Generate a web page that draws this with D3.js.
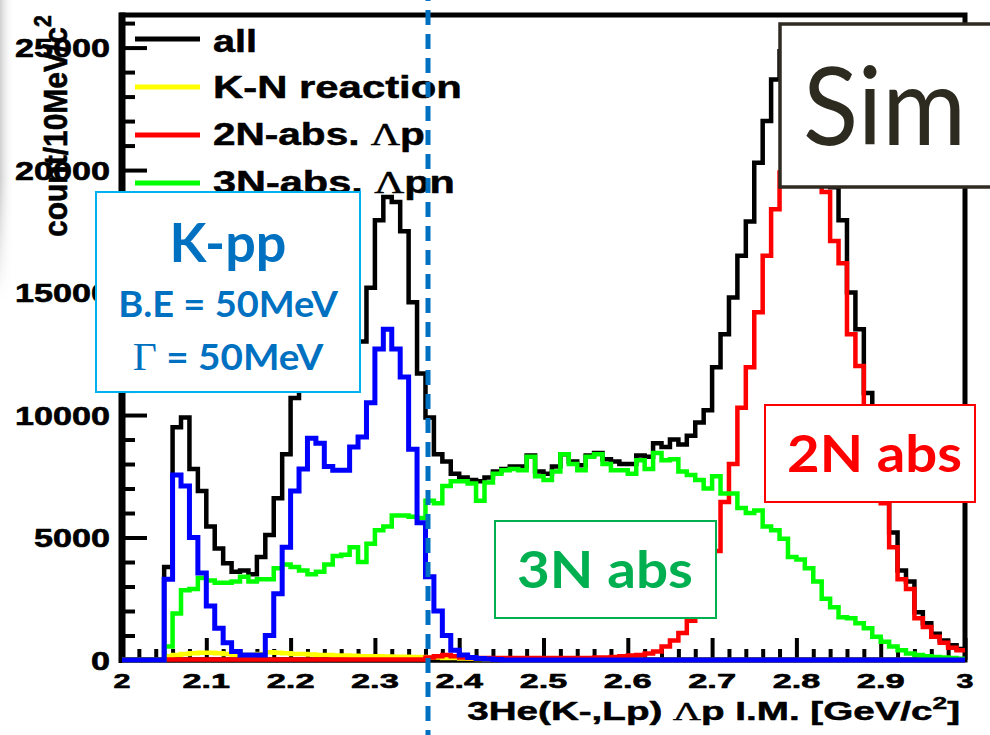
<!DOCTYPE html>
<html>
<head>
<meta charset="utf-8">
<script src="https://cdn.jsdelivr.net/npm/d3@7"></script>
<style>
  html, body { margin: 0; padding: 0; background: #fff; }
  svg { display: block; }
</style>
</head>
<body>
<svg id="chart" width="990" height="735"></svg>
<script>
// ---- Data: 3He(K-,Lp) Λp invariant mass, 10 MeV/c^2 bins from 2.00 to 3.00 GeV/c^2 ----
const binLowEdges = d3.range(100).map(i => +(2 + i * 0.01).toFixed(2));

const allCounts = [
  0, 0, 0, 0, 0, 3800, 9500, 9900, 7800, 6900,
  5450, 4550, 3950, 3600, 3650, 3500, 4200, 5100, 6600, 8400,
  10700, 11500, 12550, 12450, 11800, 12000, 12050, 13300, 13000, 15200,
  17950, 18900, 18700, 17500, 14600, 11700, 9900, 8400, 8100, 7600,
  7450, 7350, 7300, 7450, 7700, 7800, 7900, 7900, 8350, 7700,
  7600, 7900, 8400, 8100, 7950, 8350, 8450, 8200, 8100, 8000,
  8000, 8350, 8300, 8850, 8700, 9000, 8800, 9150, 9700, 10200,
  11950, 13300, 14800, 16500, 17900, 20300, 22000, 23700, 24850, 25100,
  25700, 25150, 23700, 21600, 19300, 17950, 15000, 13500, 10900, 9000,
  7150, 5200, 3650, 3200, 1950, 1500, 1070, 800, 600, 450
];

const knReactionCounts = [
  0, 0, 0, 0, 0, 150, 200, 250, 280, 300,
  300, 280, 250, 200, 200, 200, 250, 320, 300, 280,
  250, 250, 220, 200, 200, 180, 180, 170, 150, 150,
  150, 140, 130, 130, 120, 120, 100, 100, 80, 80,
  60, 50, 40, 30, 20, 0, 0, 0, 0, 0,
  0, 0, 0, 0, 0, 0, 0, 0, 0, 0,
  0, 0, 0, 0, 0, 0, 0, 0, 0, 0,
  0, 0, 0, 0, 0, 0, 0, 0, 0, 0,
  0, 0, 0, 0, 0, 0, 0, 0, 0, 0,
  0, 0, 0, 0, 0, 0, 0, 0, 0, 0
];

const abs2NCounts = [
  0, 0, 0, 0, 0, 20, 20, 20, 20, 20,
  20, 20, 20, 20, 20, 20, 20, 20, 20, 20,
  20, 20, 20, 20, 20, 20, 20, 20, 20, 20,
  20, 20, 20, 20, 20, 20, 100, 150, 200, 150,
  100, 80, 80, 80, 80, 80, 80, 80, 80, 80,
  80, 80, 80, 80, 80, 80, 100, 100, 120, 150,
  180, 200, 270, 350, 550, 800, 1100, 1600, 2300, 3200,
  4450, 6450, 8000, 10300, 11950, 14200, 16500, 18400, 19900, 20900,
  21600, 21400, 20500, 19100, 17100, 16200, 13300, 12000, 9600, 8000,
  6400, 4600, 3300, 2900, 1700, 1350, 950, 700, 500, 400
];

const abs3NCounts = [
  0, 0, 0, 0, 0, 550, 1900, 2850, 2900, 3350,
  3250, 3150, 3150, 3200, 3400, 3200, 3300, 3300, 3750, 3900,
  3800, 3650, 3500, 3600, 3900, 4250, 4300, 4600, 4000, 4750,
  5300, 5450, 5900, 5900, 5850, 5800, 6500, 6400, 7100, 7300,
  7300, 7200, 6500, 7250, 7600, 7750, 7800, 7750, 8300, 7500,
  7350, 7700, 8400, 8000, 7750, 8300, 8400, 8000, 7750, 7750,
  7600, 8150, 7800, 8450, 8150, 8200, 7700, 7550, 7350, 7000,
  7500, 6800, 6800, 6200, 6000, 6100, 5450, 5300, 4950, 4200,
  4100, 3750, 3200, 2500, 2150, 1750, 1700, 1500, 1300, 950,
  750, 550, 400, 270, 200, 150, 120, 100, 80, 50
];

const kppCounts = [
  0, 0, 0, 0, 0, 3300, 7550, 7100, 5000, 3550,
  2200, 1300, 700, 350, 200, 200, 200, 1000, 2700, 4600,
  6900, 7800, 9050, 8850, 7900, 7750, 7750, 8700, 9100, 10500,
  12700, 13500, 12700, 11550, 8600, 5600, 3400, 2000, 1000, 400,
  200, 100, 60, 40, 20, 0, 0, 0, 0, 0,
  0, 0, 0, 0, 0, 0, 0, 0, 0, 0,
  0, 0, 0, 0, 0, 0, 0, 0, 0, 0,
  0, 0, 0, 0, 0, 0, 0, 0, 0, 0,
  0, 0, 0, 0, 0, 0, 0, 0, 0, 0,
  0, 0, 0, 0, 0, 0, 0, 0, 0, 0
];

const xMajorTicks = [2, 2.1, 2.2, 2.3, 2.4, 2.5, 2.6, 2.7, 2.8, 2.9, 3];
const xTickLabels = ["2", "2.1", "2.2", "2.3", "2.4", "2.5", "2.6", "2.7", "2.8", "2.9", "3"];
const yMajorTicks = [0, 5000, 10000, 15000, 20000, 25000];
const yTickLabels = ["0", "5000", "10000", "15000", "20000", "25000"];
const xMinorTicks = d3.range(1, 50).filter(i => i % 5 !== 0).map(i => 2 + i * 0.02);
const yMinorTicks = d3.range(1, 27).filter(i => i % 5 !== 0).map(i => i * 1000);

const legendNames = ["all", "K-N reaction", "2N-abs. ", "3N-abs. "];

// ---- Layout ----
const svg = d3.select("#chart");
const frame = { left: 122, right: 965, top: 15, bottom: 660 };
const x = d3.scaleLinear().domain([2, 3]).range([frame.left, frame.right]);
const y = d3.scaleLinear().domain([0, 26330]).range([frame.bottom, frame.top]);

const ROOT_FONT = "'Liberation Sans', Arial, Helvetica, sans-serif";
const GREEK_FONT = "'Liberation Serif', 'Times New Roman', serif";
const SLIDE_FONT = "Lato, 'Open Sans', 'Noto Sans', sans-serif";

// Text whose rendered width is set explicitly (horizontal scale around its anchor).
function fittedText(parent, o) {
  const g = parent.append("g");
  const t = g.append("text")
    .attr("text-anchor", o.anchor || "start")
    .attr("font-family", o.family || ROOT_FONT)
    .attr("font-weight", o.weight || "bold")
    .attr("font-size", o.size)
    .attr("fill", o.fill || "#000");
  if (o.heavy) {
    t.attr("stroke", o.fill || "#000").attr("stroke-width", o.heavy).attr("stroke-linejoin", "round");
  }
  o.parts.forEach(p => {
    const s = t.append("tspan").text(p.text);
    if (p.family) s.attr("font-family", p.family);
    if (p.weight) s.attr("font-weight", p.weight);
    if (p.size) s.attr("font-size", p.size);
    if (p.dy) s.attr("dy", p.dy);
  });
  const w = t.node().getBBox().width;
  const sx = o.width / w;
  const sy = o.sy || 1;
  g.attr("transform", `translate(${o.x},${o.y})${o.rotate ? ` rotate(${o.rotate})` : ""} scale(${sx},${sy})`);
  return g;
}

// ---- Slide edge shading ----
const defs = svg.append("defs");
const edgeGrad = defs.append("linearGradient").attr("id", "edgeGrad").attr("x1", 0).attr("x2", 1).attr("y1", 0).attr("y2", 0);
edgeGrad.append("stop").attr("offset", 0).attr("stop-color", "#cfcfcf");
edgeGrad.append("stop").attr("offset", 1).attr("stop-color", "#ffffff").attr("stop-opacity", 0);
const fadeGrad = defs.append("linearGradient").attr("id", "fadeGrad").attr("x1", 0).attr("x2", 0).attr("y1", 0).attr("y2", 1);
fadeGrad.append("stop").attr("offset", 0.6).attr("stop-color", "#fff");
fadeGrad.append("stop").attr("offset", 1).attr("stop-color", "#000");
defs.append("mask").attr("id", "fadeMask").append("rect")
  .attr("x", 0).attr("y", 0).attr("width", 16).attr("height", 300).attr("fill", "url(#fadeGrad)");
svg.append("rect").attr("x", 0).attr("y", 0).attr("width", 14).attr("height", 300)
  .attr("fill", "url(#edgeGrad)").attr("mask", "url(#fadeMask)");

// ---- Frame and axes ----
svg.append("rect")
  .attr("x", frame.left).attr("y", frame.top)
  .attr("width", frame.right - frame.left).attr("height", frame.bottom - frame.top)
  .attr("fill", "none").attr("stroke", "#000").attr("stroke-width", 5);
svg.append("line")
  .attr("x1", frame.left).attr("x2", frame.left)
  .attr("y1", frame.top - 2.5).attr("y2", frame.bottom + 3)
  .attr("stroke", "#000").attr("stroke-width", 7);
svg.append("line")
  .attr("x1", frame.left).attr("x2", frame.right)
  .attr("y1", frame.bottom).attr("y2", frame.bottom)
  .attr("stroke", "#000").attr("stroke-width", 5);

function tickAxis(axis, transform, values, size) {
  const g = svg.append("g").attr("transform", transform)
    .call(axis.tickValues(values).tickSize(size).tickFormat(""));
  g.select(".domain").remove();
  g.selectAll(".tick line").attr("stroke", "#000").attr("stroke-width", 4);
}
tickAxis(d3.axisLeft(y), `translate(${frame.left},0)`, yMinorTicks, -13);
tickAxis(d3.axisLeft(y), `translate(${frame.left},0)`, yMajorTicks, -25);
tickAxis(d3.axisBottom(x), `translate(0,${frame.bottom})`, xMinorTicks, -11);
tickAxis(d3.axisBottom(x), `translate(0,${frame.bottom})`, xMajorTicks, -22);

// Tick labels
yMajorTicks.forEach((v, i) => {
  fittedText(svg, {
    x: 110, y: y(v) + 9.5, anchor: "end", size: 26, heavy: 0.6,
    width: 19 * yTickLabels[i].length, parts: [{ text: yTickLabels[i] }]
  });
});
xMajorTicks.forEach((v, i) => {
  const lab = xTickLabels[i];
  fittedText(svg, {
    x: x(v), y: 688, anchor: "middle", size: 21, heavy: 0.6,
    width: lab.length === 1 ? 17 : 48, parts: [{ text: lab }]
  });
});

// Axis titles
fittedText(svg, {
  x: 960, y: 720, anchor: "end", size: 25, width: 493, heavy: 0.5,
  parts: [
    { text: "3He(K-,Lp) " },
    { text: "Λ", family: GREEK_FONT, weight: "normal" },
    { text: "p I.M. [GeV/c" },
    { text: "2", size: 17, dy: -11 },
    { text: "]", dy: 11 }
  ]
});
fittedText(svg, {
  x: 67, y: 237, rotate: -90, anchor: "start", size: 28, width: 222, sy: 1.2, heavy: 0.5,
  parts: [
    { text: "count/10MeV/c" },
    { text: "2", size: 20, dy: -13 }
  ]
});

// ---- Histograms ----
const histLine = d3.line()
  .x(d => x(d[0]))
  .y(d => y(d[1]))
  .curve(d3.curveStepAfter);

function drawHist(counts, color, width) {
  const pts = binLowEdges.map((e, i) => [e, counts[i]]);
  pts.push([3, counts[counts.length - 1]]);
  svg.append("path")
    .attr("d", histLine(pts))
    .attr("fill", "none")
    .attr("stroke", color)
    .attr("stroke-width", width)
    .attr("stroke-linejoin", "miter")
    .attr("stroke-linecap", "butt");
}

const series = [
  { counts: allCounts, color: "#000000", width: 4.5 },
  { counts: knReactionCounts, color: "#ffff00", width: 4.5 },
  { counts: abs2NCounts, color: "#ff0000", width: 4.5 },
  { counts: abs3NCounts, color: "#00ff00", width: 4.5 },
  { counts: kppCounts, color: "#0000ff", width: 5 }
];
series.forEach(s => drawHist(s.counts, s.color, s.width));

// ---- Legend ----
const legendRows = [
  { color: "#000000", lineY: 39, textY: 52, width: 44, parts: [{ text: legendNames[0] }] },
  { color: "#ffff00", lineY: 87, textY: 98, width: 249, parts: [{ text: legendNames[1] }] },
  { color: "#ff0000", lineY: 135, textY: 145, width: 212,
    parts: [{ text: legendNames[2] }, { text: "Λ", family: GREEK_FONT, weight: "normal" }, { text: "p" }] },
  { color: "#00ff00", lineY: 183, textY: 193, width: 242,
    parts: [{ text: legendNames[3] }, { text: "Λ", family: GREEK_FONT, weight: "normal" }, { text: "pn" }] }
];
legendRows.forEach(r => {
  svg.append("line")
    .attr("x1", 135).attr("x2", 200)
    .attr("y1", r.lineY).attr("y2", r.lineY)
    .attr("stroke", r.color).attr("stroke-width", 5);
  fittedText(svg, { x: 213, y: r.textY, anchor: "start", size: 31, width: r.width, heavy: 0.5, parts: r.parts });
});

// ---- Annotation boxes ----
function box(xp, yp, w, h, stroke, sw) {
  svg.append("rect").attr("x", xp).attr("y", yp).attr("width", w).attr("height", h)
    .attr("fill", "#fff").attr("stroke", stroke).attr("stroke-width", sw);
}

// K-pp signal box
box(96, 192, 264, 200, "#00b0f0", 2);
fittedText(svg, { x: 228, y: 262, anchor: "middle", family: SLIDE_FONT, size: 54, width: 117, fill: "#0070c0",
  parts: [{ text: "K-pp" }] });
fittedText(svg, { x: 228, y: 317, anchor: "middle", family: SLIDE_FONT, size: 37, width: 220, fill: "#0070c0",
  parts: [{ text: "B.E = 50MeV" }] });
fittedText(svg, { x: 228, y: 370, anchor: "middle", family: SLIDE_FONT, size: 37, width: 191, fill: "#0070c0",
  parts: [{ text: "Γ", family: GREEK_FONT, weight: "normal", size: 40 }, { text: " = 50MeV" }] });

// 2N absorption box
box(765, 405, 210, 97, "#ff0000", 2);
fittedText(svg, { x: 874.5, y: 472, anchor: "middle", family: SLIDE_FONT, size: 52, width: 175, fill: "#ff0000",
  parts: [{ text: "2N abs" }] });

// 3N absorption box
box(495, 521, 221, 97, "#00b050", 2);
fittedText(svg, { x: 605, y: 588, anchor: "middle", family: SLIDE_FONT, size: 52, width: 176, fill: "#00b050",
  parts: [{ text: "3N abs" }] });

// Simulation tag
box(780, 24, 240, 163, "#302b22", 3.5);
fittedText(svg, { x: 803, y: 145, anchor: "start", family: SLIDE_FONT, weight: "normal", size: 108, width: 163,
  fill: "#2d2a20", parts: [{ text: "Sim" }] });

// Threshold marker
svg.append("line")
  .attr("x1", 428).attr("x2", 428).attr("y1", 0).attr("y2", 735)
  .attr("stroke", "#0070c0").attr("stroke-width", 5)
  .attr("stroke-dasharray", "15,9").attr("stroke-dashoffset", 14);
</script>
</body>
</html>
